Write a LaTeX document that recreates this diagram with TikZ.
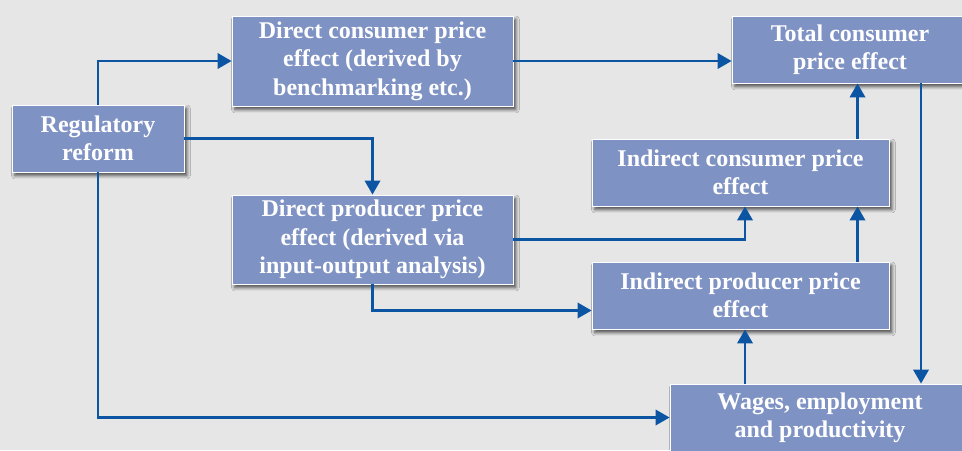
\documentclass[tikz,border=0pt]{standalone}
\usepackage{fontspec}
\setmainfont{Liberation Serif}
\usetikzlibrary{calc,arrows.meta,shadows.blur}
\definecolor{bgc}{RGB}{230,230,230}
\definecolor{boxc}{RGB}{127,146,196}
\definecolor{linec}{RGB}{12,85,163}
\tikzset{
  box/.style={rectangle, fill=boxc, draw=white, line width=0.6pt, inner sep=0pt,
    text=white, font=\fontsize{18}{21.3}\selectfont\bfseries, align=center,
    blur shadow={shadow xshift=2.2pt, shadow yshift=-2.6pt, shadow blur radius=2.6pt, shadow opacity=70}},
  arr/.style={draw=linec, line width=1.9pt, -{Triangle[length=10.5pt,width=11.5pt]}}
}
\begin{document}
\begin{tikzpicture}[x=0.75pt,y=-0.75pt]
\useasboundingbox (0,0) rectangle (962,450);
\fill[bgc] (0,0) rectangle (962,450);
\begin{scope}
\clip (0,0) rectangle (962,450);
\node[box, minimum width=172*0.75pt, minimum height=67*0.75pt] (reg) at (98,138.5) {Regulatory\\reform};
\node[box, minimum width=281*0.75pt, minimum height=90*0.75pt] (dc) at (372.5,61) {Direct consumer price\\effect (derived by\\benchmarking etc.)};
\node[box, minimum width=236*0.75pt, minimum height=67*0.75pt] (tot) at (850,49.5) {Total consumer\\price effect};
\node[box, minimum width=297*0.75pt, minimum height=67*0.75pt] (ic) at (740.5,172.5) {Indirect consumer price\\effect};
\node[box, minimum width=297*0.75pt, minimum height=67*0.75pt] (ip) at (740.5,295.5) {Indirect producer price\\effect};
\node[box, minimum width=281*0.75pt, minimum height=89*0.75pt] (dp) at (372.5,239.5) {Direct producer price\\effect (derived via\\input-output analysis)};
\node[box, minimum width=300*0.75pt, minimum height=67*0.75pt] (wg) at (820,417.5) {Wages, employment\\and productivity};
\end{scope}
\coordinate (c1) at ($(ic.north)+(117,0)$);
\coordinate (c2) at ($(ip.north)+(117,0)$);
\coordinate (c3) at ($(tot.south)+(71,0)$);
\coordinate (c4) at ($(ip.south)+(4.5,0)$);
\coordinate (c5) at ($(ic.south)+(4.5,0)$);
\coordinate (c6) at ($(ip.west)+(0,15)$);
\draw[arr] (reg.north) |- (dc.west);
\draw[arr] (reg.east) -| (dp.north);
\draw[arr] (reg.south) |- (wg.west);
\draw[arr] (dc.east) -- (dc.east -| tot.west);
\draw[arr] (dp.east) -| (c5);
\draw[arr] (dp.south) |- (c6);
\draw[arr] (c2) -- (c2 |- ic.south);
\draw[arr] (c1) -- (c1 |- tot.south);
\draw[arr] (c3) -- (c3 |- wg.north);
\draw[arr] (c4 |- wg.north) -- (c4);
\end{tikzpicture}
\end{document}
